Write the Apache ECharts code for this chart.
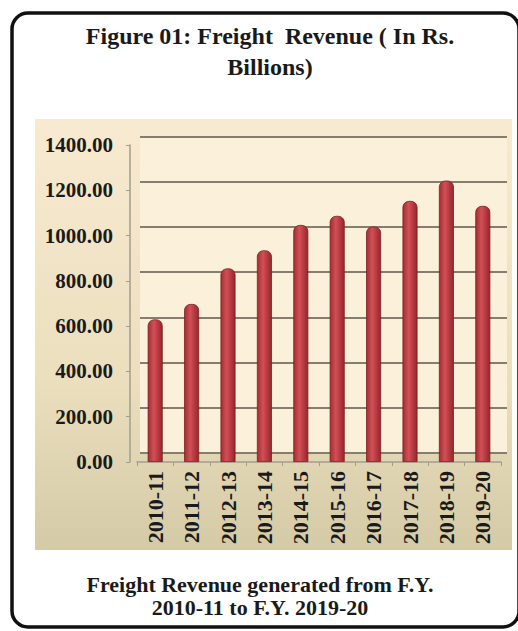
<!DOCTYPE html>
<html>
<head>
<meta charset="utf-8">
<script src="https://cdn.jsdelivr.net/npm/echarts@6/dist/echarts.min.js"></script>
<style>
html,body{margin:0;padding:0;background:#ffffff;}
#chart{width:518px;height:631px;}
</style>
</head>
<body>
<div id="chart"></div>
<script>
const categories = ['2010-11','2011-12','2012-13','2013-14','2014-15','2015-16','2016-17','2017-18','2018-19','2019-20'];
const revenue = [630, 698, 855, 935, 1047, 1087, 1040, 1153, 1243, 1131];
const yMin = 0, yMax = 1400, yStep = 200;
const titleText = 'Figure 01: Freight  Revenue ( In Rs.\nBillions)';
const captionLine1 = 'Freight Revenue generated from F.Y.';
const captionLine2 = '2010-11 to F.Y. 2019-20';

const serif = '"Liberation Serif", "Times New Roman", serif';
const chart = echarts.init(document.getElementById('chart'), null, {renderer: 'svg'});
const capStyle = {fontFamily: serif, fontWeight: 'bold', fontSize: 22, color: '#1a1a1a'};

chart.setOption({
  animation: false,
  backgroundColor: '#ffffff',
  graphic: [
    { type: 'rect', z: -10, shape: {x: 12, y: 13, width: 507, height: 614, r: 16},
      style: {fill: '#ffffff', stroke: '#111111', lineWidth: 3.5} },
    { type: 'rect', z: -9, shape: {x: 35, y: 119, width: 477, height: 431},
      style: {fill: new echarts.graphic.LinearGradient(0, 0, 0, 1, [
        {offset: 0, color: '#f8ead0'}, {offset: 0.6, color: '#ebdfbe'}, {offset: 1, color: '#d5caa6'}])} }
  ],
  title: [
    { text: titleText, left: 265, top: 15, textAlign: 'center',
      textStyle: {fontFamily: serif, fontWeight: 'bold', fontSize: 24, lineHeight: 31, color: '#1a1a1a'} },
    { text: captionLine1, left: 260, top: 573, textAlign: 'center', padding: 0, textStyle: capStyle },
    { text: captionLine2, left: 260, top: 596, textAlign: 'center', padding: 0, textStyle: capStyle }
  ],
  grid: [
    { left: 140, right: 11, top: 137, bottom: 178.5, show: true, backgroundColor: '#fbf1da', borderWidth: 0 },
    { left: 137, right: 17, top: 145, bottom: 169 }
  ],
  xAxis: [
    { gridIndex: 0, type: 'category', data: categories, show: false },
    { gridIndex: 1, type: 'category', data: categories,
      axisLine: {show: true, lineStyle: {color: '#a29c92', width: 1.5}},
      axisTick: {show: true, length: 4, lineStyle: {color: '#a29c92'}},
      axisLabel: {rotate: 90, margin: 9, fontFamily: serif, fontWeight: 'bold', fontSize: 22, color: '#1a1a1a'} }
  ],
  yAxis: [
    { gridIndex: 0, type: 'value', min: yMin, max: yMax, interval: yStep,
      axisLine: {show: false}, axisTick: {show: false}, axisLabel: {show: false},
      splitLine: {show: true, lineStyle: {color: '#857e6e', width: 2}} },
    { gridIndex: 1, type: 'value', min: yMin, max: yMax, interval: yStep, offset: 7,
      axisLine: {show: true, lineStyle: {color: '#a29c92', width: 1.5}},
      axisTick: {show: true, length: 4, lineStyle: {color: '#a29c92'}},
      splitLine: {show: false},
      axisLabel: {margin: 17, fontFamily: serif, fontWeight: 'bold', fontSize: 21, color: '#1a1a1a',
        formatter: v => v.toFixed(2)} }
  ],
  series: [
    { type: 'bar', xAxisIndex: 1, yAxisIndex: 1, data: revenue, barWidth: 15,
      itemStyle: {
        color: new echarts.graphic.LinearGradient(0, 0, 1, 0, [
          {offset: 0, color: '#a52d33'}, {offset: 0.4, color: '#d24f56'}, {offset: 1, color: '#96262b'}]),
        borderColor: '#7d1f22', borderWidth: 0.8, borderRadius: [6, 6, 0, 0]
      } }
  ]
});
</script>
</body>
</html>
